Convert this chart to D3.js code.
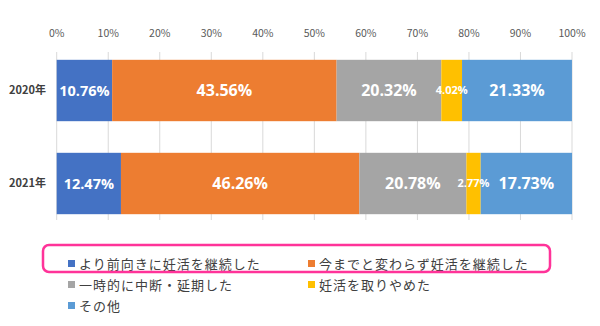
<!DOCTYPE html>
<html>
<head>
<meta charset="utf-8">
<script src="https://cdn.jsdelivr.net/npm/d3@7"></script>
<style>
  html, body { margin: 0; padding: 0; background: #fff; }
  svg { display: block; font-family: "Noto Sans CJK JP", "Noto Sans", sans-serif; }
</style>
</head>
<body>
<svg id="chart" width="600" height="326"></svg>
<script>
// Survey years (rows of the stacked bar chart)
const years = ["2020年", "2021年"];

// Response categories, in stacking order
const categories = [
  "より前向きに妊活を継続した",
  "今までと変わらず妊活を継続した",
  "一時的に中断・延期した",
  "妊活を取りやめた",
  "その他"
];

// Percent shares per category, one value per year
const values2020 = [10.76, 43.56, 20.32, 4.02, 21.33];
const values2021 = [12.47, 46.26, 20.78, 2.77, 17.73];

const tickValues = [0, 10, 20, 30, 40, 50, 60, 70, 80, 90, 100];
const colors = ["#4472C4", "#ED7D31", "#A5A5A5", "#FFC000", "#5B9BD5"];

const rows = years.map((y, i) => {
  const vals = i === 0 ? values2020 : values2021;
  const obj = { year: y };
  categories.forEach((c, j) => obj[c] = vals[j]);
  return obj;
});

const svg = d3.select("#chart");

const x = d3.scaleLinear().domain([0, 100]).range([56.7, 572]);
const y = d3.scaleBand().domain(years).range([44, 230]).paddingInner(0.34).paddingOuter(0.17);

// Gridlines
svg.append("g")
  .selectAll("line")
  .data(tickValues)
  .join("line")
  .attr("x1", d => x(d)).attr("x2", d => x(d))
  .attr("y1", 52).attr("y2", 220)
  .attr("stroke", "#d9d9d9").attr("stroke-width", 1);

// Top percent axis labels
svg.append("g")
  .selectAll("text")
  .data(tickValues)
  .join("text")
  .attr("x", d => x(d))
  .attr("y", 37)
  .attr("text-anchor", "middle")
  .attr("font-size", 10.5)
  .attr("fill", "#595959")
  .text(d => d + "%");

// Stacked segments
const stack = d3.stack().keys(categories)(rows);

const layers = svg.append("g")
  .selectAll("g")
  .data(stack)
  .join("g")
  .attr("fill", (d, i) => colors[i]);

layers.selectAll("rect")
  .data(d => d)
  .join("rect")
  .attr("x", d => x(d[0]))
  .attr("width", d => x(d[1]) - x(d[0]))
  .attr("y", d => y(d.data.year))
  .attr("height", y.bandwidth());

// Value labels inside segments
stack.forEach((layer, i) => {
  svg.append("g")
    .selectAll("text")
    .data(layer)
    .join("text")
    .attr("x", d => (x(d[0]) + x(d[1])) / 2)
    .attr("y", d => y(d.data.year) + y.bandwidth() / 2)
    .attr("dy", "0.36em")
    .attr("text-anchor", "middle")
    .attr("font-family", "'Open Sans', 'Noto Sans', sans-serif")
    .attr("font-weight", "bold")
    .attr("font-size", d => (d[1] - d[0]) < 6 ? 11 : (d[1] - d[0]) < 15 ? 14.5 : 16)
    .attr("fill", "#fff")
    .text(d => (d[1] - d[0]).toFixed(2) + "%");
});

// Year labels
svg.append("g")
  .selectAll("text")
  .data(years)
  .join("text")
  .attr("x", 46)
  .attr("y", d => y(d) + y.bandwidth() / 2)
  .attr("dy", "0.36em")
  .attr("text-anchor", "end")
  .attr("font-size", 11)
  .attr("font-weight", "bold")
  .attr("fill", "#404040")
  .text(d => d);

// Legend
const legendPos = [
  [68, 264], [308, 264],
  [68, 285], [308, 285],
  [68, 306]
];
const legend = svg.append("g")
  .selectAll("g")
  .data(categories)
  .join("g")
  .attr("transform", (d, i) => `translate(${legendPos[i][0]},${legendPos[i][1]})`);

legend.append("rect")
  .attr("x", 0).attr("y", -4)
  .attr("width", 7).attr("height", 7)
  .attr("fill", (d, i) => colors[i]);

legend.append("text")
  .attr("x", 11)
  .attr("y", 0)
  .attr("dy", "0.36em")
  .attr("font-size", 13)
  .attr("fill", "#404040")
  .attr("letter-spacing", "1")
  .text(d => d);

// Highlight frame around the first legend row
svg.append("rect")
  .attr("x", 43).attr("y", 245)
  .attr("width", 507).attr("height", 27)
  .attr("rx", 6)
  .attr("fill", "none")
  .attr("stroke", "#FF3399")
  .attr("stroke-width", 2.5);
</script>
</body>
</html>
